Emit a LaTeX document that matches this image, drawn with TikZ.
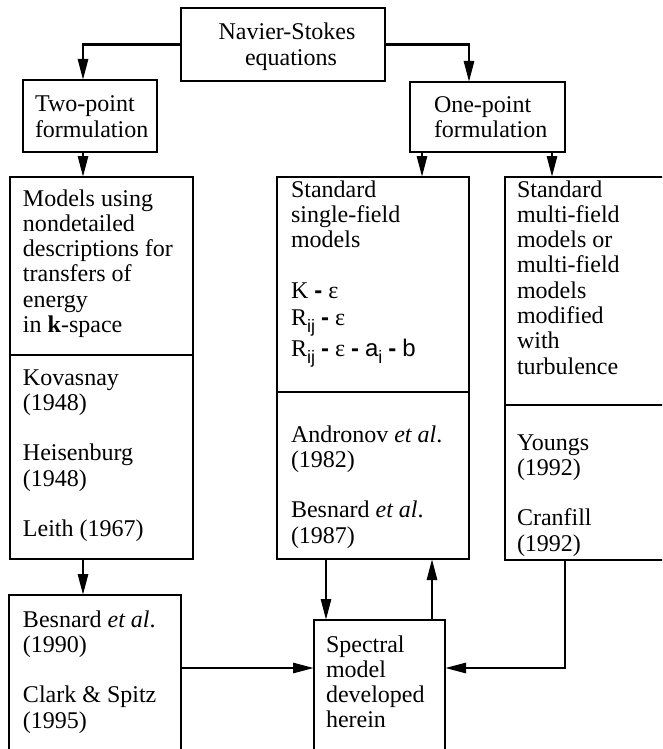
\documentclass[tikz,border=0pt]{standalone}
\usepackage{fontspec}
\setmainfont{Liberation Serif}
\newfontfamily\hsf{Liberation Sans}
\usetikzlibrary{arrows.meta}
\newcommand\mysub[1]{\raisebox{-7pt}{\fontsize{18}{18}\selectfont\hsf #1}}
\newcommand\myhy{{\hsf\bfseries -}}
\begin{document}
\begin{tikzpicture}[x=1pt,y=-1pt,
  box/.style={draw, line width=2.8pt, inner sep=0pt, outer sep=0pt},
  rule/.style={line width=2.8pt},
  conn/.style={line width=2.8pt, -{Triangle[length=21pt,width=10pt]}},
  lbl/.style={inner sep=0pt, outer sep=0pt, anchor=base west, font=\fontsize{24}{25.3}\selectfont},
  ctr/.style={lbl, anchor=base}]
\useasboundingbox (0,0) rectangle (662,749);
\clip (0,0) rectangle (662,749);

% boxes
\node[box, minimum width=204pt, minimum height=73pt] (ns) at (283,44.5) {};
\node[box, minimum width=134pt, minimum height=72pt] (tp) at (90,116) {};
\node[box, minimum width=155pt, minimum height=70pt] (op) at (487.5,117) {};
\node[box, minimum width=183pt, minimum height=382pt] (mod) at (101.5,368) {};
\node[box, minimum width=192pt, minimum height=382pt] (mid) at (373,368) {};
\node[box, minimum width=195pt, minimum height=383pt] (rgt) at (602.5,368.5) {};
\node[box, minimum width=172pt, minimum height=205pt] (bes) at (95,697.5) {};
\node[box, minimum width=131pt, minimum height=180pt] (spec) at (379.5,710) {};

% dividers
\coordinate (d1) at (0,355);
\coordinate (d2) at (0,392);
\coordinate (d3) at (0,405);
\coordinate (hy) at (0,668);
\draw[rule] (mod.west |- d1) -- (mod.east |- d1);
\draw[rule] (mid.west |- d2) -- (mid.east |- d2);
\draw[rule] (rgt.west |- d3) -- (rgt.east |- d3);

% connectors
\draw[conn] (ns.west) -| ([xshift=-7pt]tp.north);
\draw[conn] (ns.east) -| ([xshift=-18.5pt]op.north);
\draw[conn] ([xshift=-7pt]tp.south) -- ([xshift=-7pt]tp.south |- mod.north);
\draw[conn] ([xshift=-65.5pt]op.south) -- ([xshift=-65.5pt]op.south |- mid.north);
\draw[conn] ([xshift=64.5pt]op.south) -- ([xshift=64.5pt]op.south |- rgt.north);
\draw[conn] ([xshift=-18.5pt]mod.south) -- ([xshift=-18.5pt]mod.south |- bes.north);
\draw[conn] ([xshift=-47pt]mid.south) -- ([xshift=-47pt]mid.south |- spec.north);
\draw[conn] ([xshift=52.5pt]spec.north) -- ([xshift=52.5pt]spec.north |- mid.south);
\draw[conn] (bes.east |- hy) -- (spec.west |- hy);
\draw[conn] ([xshift=-37.5pt]rgt.south) |- (spec.east |- hy);

% texts
\node[ctr] (n1) at (287,40) {Navier-Stokes};
\node[ctr] (n2) at (291,66) {equations};
\node[lbl] (t1) at (35,112) {Two-point};
\node[lbl] (t2) at (35,137) {formulation};
\node[lbl] (o1) at (434,113) {One-point};
\node[lbl] (o2) at (434,138) {formulation};

\node[lbl] (m1) at (23,206) {Models using};
\node[lbl] (m2) at (23,231.3) {nondetailed};
\node[lbl] (m3) at (23,256.6) {descriptions for};
\node[lbl] (m4) at (23,281.9) {transfers of};
\node[lbl] (m5) at (23,307.2) {energy};
\node[lbl] (m6) at (23,332.5) {in \textbf{k}-space};
\node[lbl] (k1) at (23,385) {Kovasnay};
\node[lbl] (k2) at (23,410.3) {(1948)};
\node[lbl] (k3) at (23,460.9) {Heisenburg};
\node[lbl] (k4) at (23,486.2) {(1948)};
\node[lbl] (k5) at (23,536.5) {Leith (1967)};

\node[lbl] (s1) at (291,197) {Standard};
\node[lbl] (s2) at (291,222.3) {single-field};
\node[lbl] (s3) at (291,247.6) {models};
\node[lbl] (s4) at (291,298) {K \myhy{} ε};
\node[lbl] (s5) at (291,325) {R\mysub{ij} \myhy{} ε};
\node[lbl] (s6) at (291,356.5) {R\mysub{ij} \myhy{} ε \myhy{} {\hsf a}\mysub{i} \myhy{} {\hsf b}};
\node[lbl] (a1) at (291,442) {Andronov \textit{et al}.};
\node[lbl] (a2) at (291,467.3) {(1982)};
\node[lbl] (a3) at (291,517.9) {Besnard \textit{et al}.};
\node[lbl] (a4) at (291,543.2) {(1987)};

\node[lbl] (r1) at (517,197) {Standard};
\node[lbl] (r2) at (517,222.3) {multi-field};
\node[lbl] (r3) at (517,247.6) {models or};
\node[lbl] (r4) at (517,272.9) {multi-field};
\node[lbl] (r5) at (517,298.2) {models};
\node[lbl] (r6) at (517,323.5) {modified};
\node[lbl] (r7) at (517,348.8) {with};
\node[lbl] (r8) at (517,374.1) {turbulence};
\node[lbl] (y1) at (517,450) {Youngs};
\node[lbl] (y2) at (517,475.3) {(1992)};
\node[lbl] (y3) at (517,525.9) {Cranfill};
\node[lbl] (y4) at (517,551.2) {(1992)};

\node[lbl] (b1) at (23,627) {Besnard \textit{et al}.};
\node[lbl] (b2) at (23,652.3) {(1990)};
\node[lbl] (b3) at (23,702.9) {Clark \& Spitz};
\node[lbl] (b4) at (23,728.2) {(1995)};

\node[lbl] (p1) at (326,652) {Spectral};
\node[lbl] (p2) at (326,677) {model};
\node[lbl] (p3) at (326,702) {developed};
\node[lbl] (p4) at (326,727) {herein};
\end{tikzpicture}
\end{document}
